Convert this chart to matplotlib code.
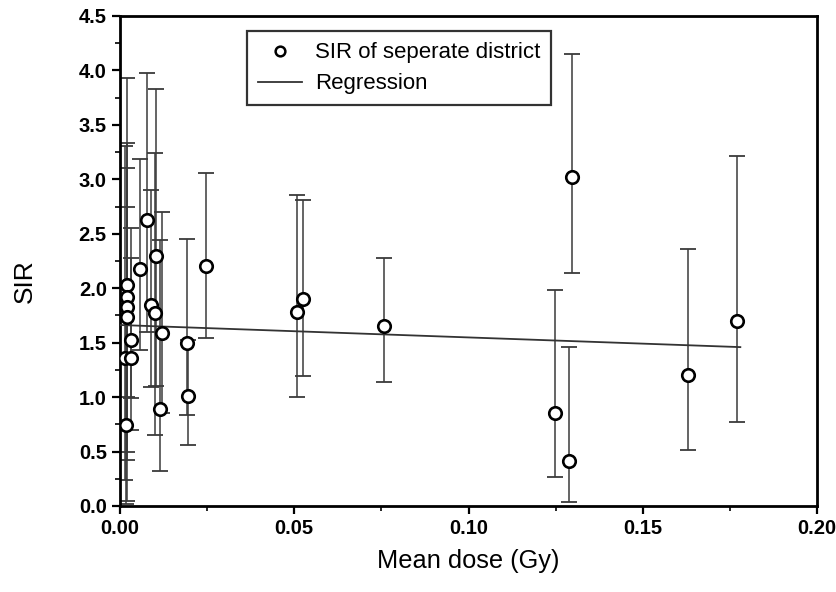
import matplotlib
matplotlib.use("Agg")
import matplotlib.pyplot as plt
from matplotlib.ticker import MultipleLocator, FormatStrFormatter
from matplotlib.lines import Line2D

# ---- data ----
dose = [0.0019, 0.0020, 0.0019, 0.0020, 0.0031, 0.0014, 0.0031, 0.0017,
        0.0057, 0.0077, 0.0089, 0.0100, 0.0102, 0.0115, 0.0121,
        0.0191, 0.0194, 0.0246,
        0.0509, 0.0526, 0.0757,
        0.1248, 0.1289, 0.1298, 0.1629, 0.1771]
sir = [2.03, 1.92, 1.83, 1.74, 1.52, 1.36, 1.36, 0.74,
       2.18, 2.63, 1.85, 1.77, 2.30, 0.89, 1.59,
       1.50, 1.01, 2.20,
       1.78, 1.90, 1.65,
       0.85, 0.41, 3.02, 1.20, 1.70]
sir_low = [0.42, 1.00, 0.50, 0.05, 0.99, 0.24, 0.70, 0.02,
           1.43, 1.60, 1.09, 0.65, 1.10, 0.32, 0.85,
           0.84, 0.56, 1.54,
           1.00, 1.19, 1.14,
           0.27, 0.04, 2.14, 0.51, 0.77]
sir_high = [3.93, 3.33, 2.75, 3.10, 2.55, 3.31, 2.28, 2.00,
            3.19, 3.98, 2.90, 3.24, 3.83, 2.44, 2.70,
            2.45, 1.52, 3.06,
            2.86, 2.81, 2.28,
            1.98, 1.46, 4.15, 2.36, 3.21]

reg_x = [0.0, 0.178]
reg_y = [1.662, 1.459]

x_ticks = [0.00, 0.05, 0.10, 0.15, 0.20]
y_ticks = [0.0, 0.5, 1.0, 1.5, 2.0, 2.5, 3.0, 3.5, 4.0, 4.5]

plt.rcParams['font.family'] = ['Liberation Sans', 'DejaVu Sans']

fig = plt.figure(figsize=(8.37, 5.92), dpi=100)
ax = fig.add_axes([0.1434, 0.1453, 0.8327, 0.8277])

yerr = [[s - l for s, l in zip(sir, sir_low)], [h - s for s, h in zip(sir, sir_high)]]
ax.errorbar(dose, sir, yerr=yerr, fmt='none', ecolor='#3a3a3a', elinewidth=1.1,
            capsize=6, capthick=1.3, zorder=2)
ax.plot(dose, sir, linestyle='none', marker='o', markersize=9,
        markerfacecolor='white', markeredgecolor='black', markeredgewidth=1.9, zorder=4)
ax.plot(reg_x, reg_y, color='#333333', linewidth=1.3, zorder=3)

ax.set_xlim(0.0, 0.20)
ax.set_ylim(0.0, 4.5)
ax.set_xticks(x_ticks)
ax.set_yticks(y_ticks)
ax.xaxis.set_major_formatter(FormatStrFormatter('%.2f'))
ax.yaxis.set_major_formatter(FormatStrFormatter('%.1f'))
ax.xaxis.set_minor_locator(MultipleLocator(0.025))
ax.yaxis.set_minor_locator(MultipleLocator(0.25))
ax.tick_params(which='major', direction='out', length=6, width=1.6,
               labelsize=14.5, top=False, right=False)
ax.tick_params(which='minor', direction='out', length=3.5, width=1.2,
               top=False, right=False)
for lab in ax.get_xticklabels() + ax.get_yticklabels():
    lab.set_fontweight('bold')
for sp in ax.spines.values():
    sp.set_linewidth(2.0)

ax.set_xlabel('Mean dose (Gy)', fontsize=18.3, labelpad=8)
ax.set_ylabel('SIR', fontsize=19)
ax.yaxis.set_label_coords(-0.119, 0.459)

handles = [Line2D([], [], linestyle='none', marker='o', markersize=7,
                  markerfacecolor='white', markeredgecolor='black', markeredgewidth=1.8),
           Line2D([], [], color='#333333', linewidth=1.3)]
leg = ax.legend(handles, ['SIR of seperate district', 'Regression'],
                loc='upper left', bbox_to_anchor=(0.182, 0.969), fontsize=16,
                frameon=True, fancybox=False, edgecolor='black', handlelength=2.0,
                borderpad=0.5, labelspacing=0.45, handletextpad=0.55,
                borderaxespad=0.0)
leg.get_frame().set_linewidth(1.6)

fig.savefig('out.png', dpi=100)
